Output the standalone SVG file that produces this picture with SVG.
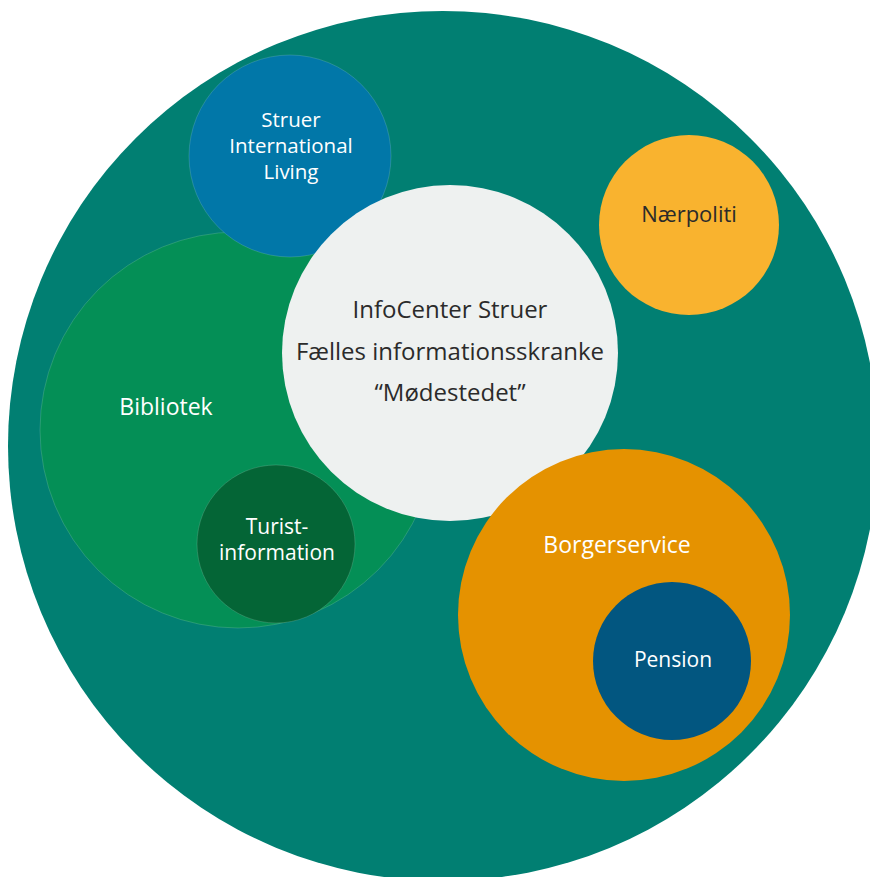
<svg xmlns="http://www.w3.org/2000/svg" width="870" height="877" viewBox="0 0 870 877">
<style>
text{font-family:"Open Sans","Liberation Sans",sans-serif;text-anchor:middle}
.w{fill:#ffffff}
.d{fill:#2b2b2b}
.c{stroke-width:1;stroke-opacity:0.15;stroke:#ffffff}
</style>
<rect width="870" height="877" fill="#ffffff"/>
<g id="outer"><circle cx="443" cy="446" r="435" fill="#017f72"/></g>
<g id="bibliotek"><circle class="c" cx="238" cy="430" r="198" fill="#048f56"/><text class="w" x="166" y="415" font-size="23">Bibliotek</text></g>
<g id="international"><circle class="c" cx="290" cy="156" r="101" fill="#0177a8"/><text class="w" x="291" y="127" font-size="20.5">Struer</text><text class="w" x="291" y="153" font-size="20.5">International</text><text class="w" x="291" y="179" font-size="20.5">Living</text></g>
<g id="infocenter"><circle cx="450" cy="353" r="168" fill="#eef1f0"/><text class="d" x="450" y="318" font-size="24">InfoCenter Struer</text><text class="d" x="450" y="360" font-size="24">Fælles informationsskranke</text><text class="d" x="450" y="401" font-size="24">“Mødestedet”</text></g>
<g id="turist"><circle class="c" cx="276" cy="544" r="79" fill="#046536"/><text class="w" x="277" y="534" font-size="21">Turist-</text><text class="w" x="277" y="560" font-size="21">information</text></g>
<g id="naerpoliti"><circle cx="689" cy="225" r="90" fill="#f9b32f"/><text class="d" x="689" y="222" font-size="22">Nærpoliti</text></g>
<g id="borgerservice"><circle cx="624" cy="615" r="166" fill="#e59200"/><text class="w" x="617" y="553" font-size="23">Borgerservice</text></g>
<g id="pension"><circle cx="672" cy="661" r="79" fill="#025680"/><text class="w" x="673" y="667" font-size="21">Pension</text></g>
<g id="connectors"></g>
</svg>
